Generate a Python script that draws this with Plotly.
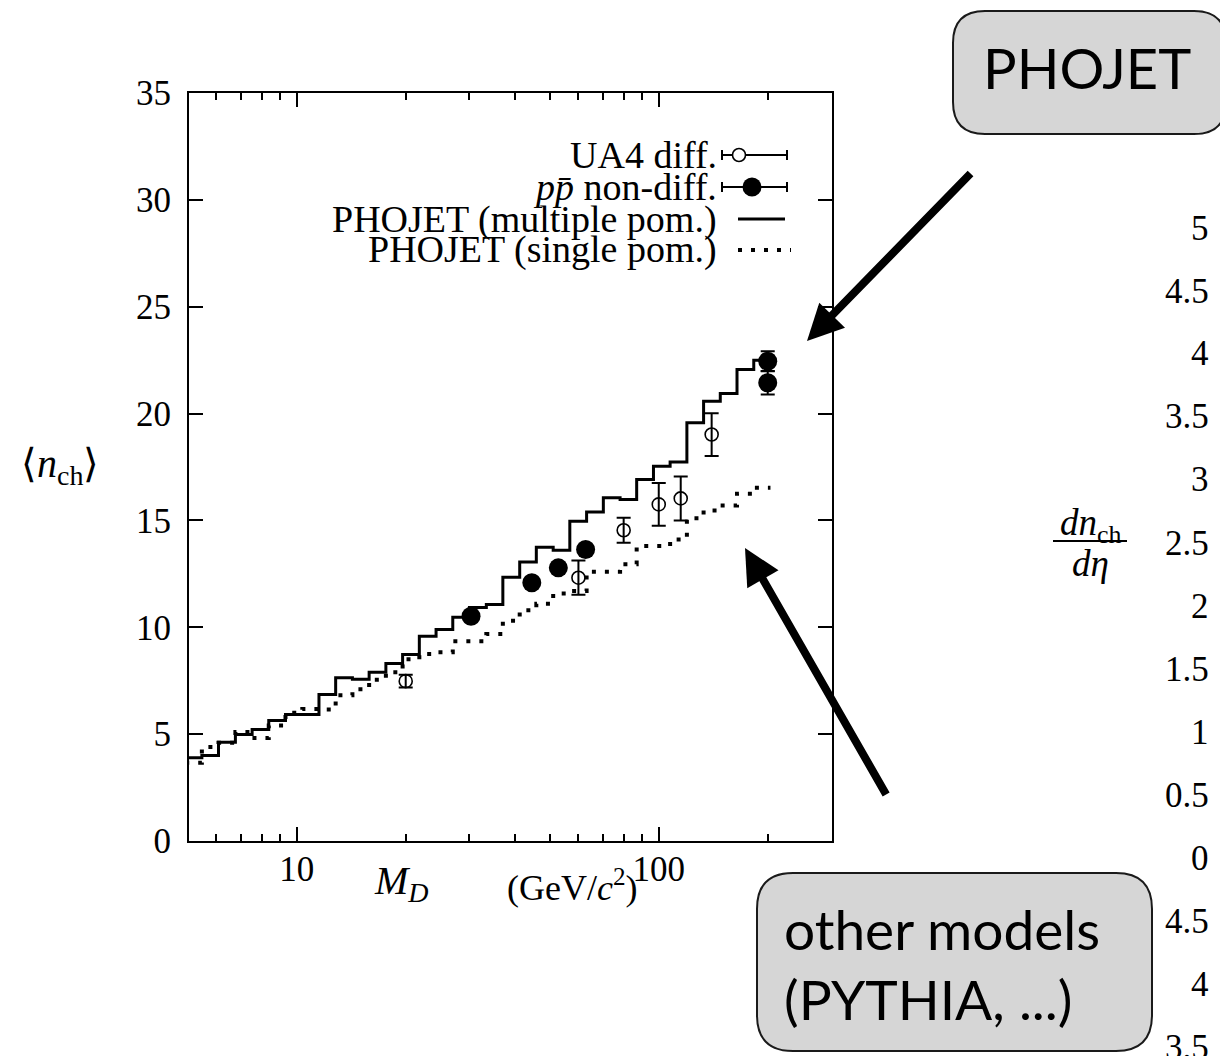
import numpy as np
import plotly.graph_objects as go

# ---------------- data ----------------
# PHOJET histogram bin edges, M_D in GeV/c^2
bin_edges = [4.92, 5.47, 6.08, 6.77, 7.53, 8.37, 9.31, 10.36, 11.52, 12.81, 14.25,
             15.85, 17.63, 19.61, 21.81, 24.26, 26.98, 30.0, 33.4, 37.1, 41.3,
             45.9, 51.1, 56.8, 63.2, 70.3, 78.2, 86.9, 96.7, 107.5, 119.6,
             133.0, 147.9, 164.5, 183.0, 203.5]
# PHOJET (multiple pomeron) <n_ch> per bin
multi_pom = [3.9, 4.0, 4.62, 4.98, 5.22, 5.64, 5.92, 5.92, 6.86, 7.64, 7.57, 7.90,
             8.31, 8.73, 9.58, 9.90, 10.47, 10.93, 11.07, 12.34, 13.05, 13.75,
             13.61, 14.96, 15.39, 16.06, 15.98, 16.92, 17.54, 17.73, 19.57, 20.58,
             20.94, 22.06, 22.50]
# PHOJET (single pomeron) <n_ch> per bin
single_pom = [3.66, 4.4, 4.6, 5.1, 4.82, 5.4, 6.0, 6.18, 6.15, 6.82, 7.1, 7.55,
              7.9, 8.5, 8.75, 8.83, 9.35, 9.35, 9.68, 10.3, 10.8, 11.1, 11.58,
              11.7, 12.6, 12.6, 12.95, 13.8, 13.8, 14.11, 15.1, 15.47, 15.7,
              16.25, 16.53]
# UA4 diffractive data
ua4_m = [20, 60, 80, 100, 115, 140]
ua4_n = [7.48, 12.32, 14.54, 15.75, 16.03, 19.02]
ua4_err = [0.3, 0.8, 0.58, 1.0, 1.03, 1.0]
# p pbar non-diffractive data
ppbar_m = [30.3, 44.6, 52.8, 62.8, 200, 200]
ppbar_n = [10.52, 12.08, 12.78, 13.64, 22.45, 21.44]
ppbar_err = [0.2, 0.2, 0.2, 0.2, 0.47, 0.55]

x_tickvals = [10, 100]
x_ticktext = ["10", "100"]
x_minor = [6, 7, 8, 9, 20, 30, 40, 50, 60, 70, 80, 90, 200, 300]
y_tickvals = [0, 5, 10, 15, 20, 25, 30, 35]

legend_labels = ["UA4 diff.", "<i>p</i><i>p\u0304</i> non-diff.",
                 "PHOJET (multiple pom.)", "PHOJET (single pom.)"]
# tick labels of the neighbouring (cropped) panel on the right
right_tick_labels = ["5", "4.5", "4", "3.5", "3", "2.5", "2", "1.5", "1", "0.5",
                     "0", "4.5", "4", "3.5"]

# ---------------- layout helpers ----------------
W, H = 1220, 1056
L, R, T, B = 189, 832, 93, 841          # plot area in pixels


def px(x):
    return (x - L) / (R - L)


def py(y):
    return (B - y) / (B - T)


SERIF = "Liberation Serif"
SANS = "Lato"


def text_at(x, y, text, size, family=SERIF, xanchor="center", yanchor="middle"):
    return dict(x=px(x), y=py(y), xref="paper", yref="paper", text=text,
                xanchor=xanchor, yanchor=yanchor, showarrow=False,
                font=dict(family=family, size=size, color="black"))


fig = go.Figure()

step_y_multi = multi_pom + [multi_pom[-1]]
step_y_single = single_pom + [single_pom[-1]]

fig.add_trace(go.Scatter(x=bin_edges, y=step_y_single, mode="lines",
                         line=dict(shape="hv", color="black", width=4, dash="4px,9px")))
fig.add_trace(go.Scatter(x=bin_edges, y=step_y_multi, mode="lines",
                         line=dict(shape="hv", color="black", width=3)))
fig.add_trace(go.Scatter(x=ua4_m, y=ua4_n, mode="markers",
                         marker=dict(symbol="circle-open", size=13, color="black",
                                     line=dict(width=1.6)),
                         error_y=dict(type="data", array=ua4_err, color="black",
                                      thickness=2, width=7)))
fig.add_trace(go.Scatter(x=ppbar_m, y=ppbar_n, mode="markers",
                         marker=dict(symbol="circle", size=19, color="black"),
                         error_y=dict(type="data", array=ppbar_err, color="black",
                                      thickness=2, width=7)))

fig.update_xaxes(type="log", range=[np.log10(5.04), np.log10(301)],
                 tickmode="array", tickvals=x_tickvals, ticktext=x_ticktext,
                 ticks="inside", ticklen=14, tickwidth=2, tickcolor="black",
                 showline=True, linewidth=2, linecolor="black", mirror="ticks",
                 showgrid=False, zeroline=False, ticklabelstandoff=-4,
                 tickfont=dict(family=SERIF, size=35, color="black"),
                 minor=dict(tickmode="array", tickvals=x_minor, ticks="inside",
                            ticklen=7, tickwidth=2, tickcolor="black", showgrid=False))
fig.update_yaxes(range=[0, 35], tickmode="array", tickvals=y_tickvals,
                 ticks="inside", ticklen=14, tickwidth=2, tickcolor="black",
                 showline=True, linewidth=2, linecolor="black", mirror="ticks",
                 showgrid=False, zeroline=False, ticklabelstandoff=9,
                 tickfont=dict(family=SERIF, size=35, color="black"))

annotations = []
shapes = []

# axis titles
annotations.append(text_at(60, 466, "\u27e8<i>n</i><sub>ch</sub>\u27e9", 40))
annotations.append(text_at(401, 883, "<i>M</i><sub><i>D</i></sub>", 40))
annotations.append(text_at(572, 885, "(GeV/<i>c</i><sup>2</sup>)", 36))

# manual key (text left of the sample, gnuplot style)
row_y = [155, 187, 219, 250]
for lab, yy in zip(legend_labels, row_y):
    annotations.append(text_at(719, yy, lab, 38, xanchor="right"))

for yy in row_y[:2]:
    shapes.append(dict(type="line", xref="paper", yref="paper",
                       x0=px(722), x1=px(787), y0=py(yy), y1=py(yy),
                       line=dict(color="black", width=2)))
    for xx in (722, 787):
        shapes.append(dict(type="line", xref="paper", yref="paper",
                           x0=px(xx), x1=px(xx), y0=py(yy - 5), y1=py(yy + 5),
                           line=dict(color="black", width=2)))
shapes.append(dict(type="circle", xref="paper", yref="paper",
                   x0=px(739 - 6.5), x1=px(739 + 6.5), y0=py(row_y[0] + 6.5),
                   y1=py(row_y[0] - 6.5), fillcolor="white",
                   line=dict(color="black", width=1.6)))
shapes.append(dict(type="circle", xref="paper", yref="paper",
                   x0=px(752 - 9.5), x1=px(752 + 9.5), y0=py(row_y[1] + 9.5),
                   y1=py(row_y[1] - 9.5), fillcolor="black",
                   line=dict(color="black", width=0)))
shapes.append(dict(type="line", xref="paper", yref="paper",
                   x0=px(738), x1=px(785), y0=py(row_y[2]), y1=py(row_y[2]),
                   line=dict(color="black", width=3)))
shapes.append(dict(type="line", xref="paper", yref="paper",
                   x0=px(738), x1=px(791), y0=py(row_y[3]), y1=py(row_y[3]),
                   line=dict(color="black", width=4, dash="4px,9px")))


def rounded_box(x0, y0, x1, y1, r):
    p = (f"M {px(x0 + r)},{py(y0)} L {px(x1 - r)},{py(y0)} "
         f"Q {px(x1)},{py(y0)} {px(x1)},{py(y0 + r)} "
         f"L {px(x1)},{py(y1 - r)} Q {px(x1)},{py(y1)} {px(x1 - r)},{py(y1)} "
         f"L {px(x0 + r)},{py(y1)} Q {px(x0)},{py(y1)} {px(x0)},{py(y1 - r)} "
         f"L {px(x0)},{py(y0 + r)} Q {px(x0)},{py(y0)} {px(x0 + r)},{py(y0)} Z")
    return dict(type="path", xref="paper", yref="paper", path=p,
                fillcolor="#d6d6d6", line=dict(color="#1a1a1a", width=2),
                layer="below")


shapes.append(rounded_box(953, 11, 1226, 134, 32))
shapes.append(rounded_box(757, 873, 1152, 1051, 36))

annotations.append(text_at(1087, 68, "PHOJET", 56, family=SANS))
annotations.append(text_at(782, 929, "other models", 55, family=SANS, xanchor="left"))
annotations.append(text_at(782, 999, "(PYTHIA, ...)", 55, family=SANS, xanchor="left"))

# arrows
annotations.append(dict(x=px(807), y=py(341), xref="paper", yref="paper",
                        ax=972 - 807, ay=172 - 341, axref="pixel", ayref="pixel",
                        text="", showarrow=True, arrowhead=2, arrowsize=0.9,
                        arrowwidth=8, arrowcolor="black", standoff=0))
annotations.append(dict(x=px(745), y=py(548), xref="paper", yref="paper",
                        ax=887 - 745, ay=796 - 548, axref="pixel", ayref="pixel",
                        text="", showarrow=True, arrowhead=2, arrowsize=0.9,
                        arrowwidth=8, arrowcolor="black", standoff=0))

# cropped neighbouring panel: tick labels and axis title
for k, lab in enumerate(right_tick_labels):
    annotations.append(text_at(1211, 228 + 63 * k, lab, 35, xanchor="right"))
annotations.append(text_at(1090, 525, "<i>dn</i><sub>ch</sub>", 37))
annotations.append(text_at(1090, 563, "<i>d\u03b7</i>", 37))
shapes.append(dict(type="line", xref="paper", yref="paper",
                   x0=px(1053), x1=px(1127), y0=py(541), y1=py(541),
                   line=dict(color="black", width=2)))

fig.update_layout(width=W, height=H, margin=dict(l=L, r=W - R, t=T, b=H - B),
                  paper_bgcolor="white", plot_bgcolor="white", showlegend=False,
                  font=dict(family=SERIF, color="black"),
                  annotations=annotations, shapes=shapes)

fig.write_html("out.html")
